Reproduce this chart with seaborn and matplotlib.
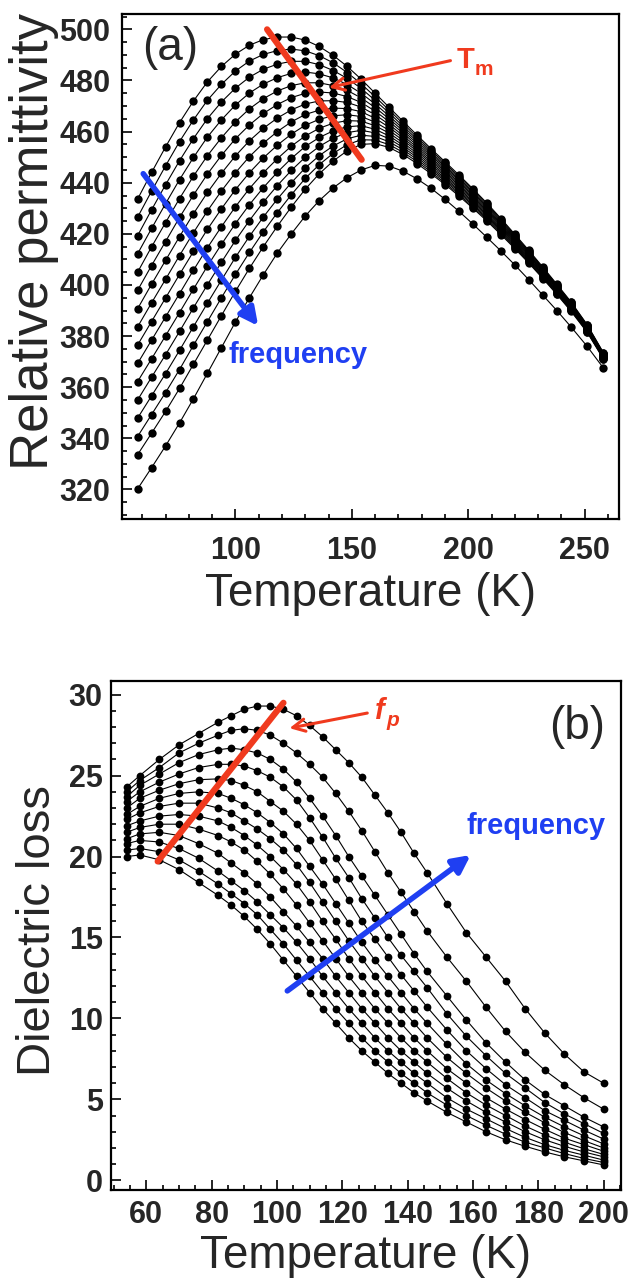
import numpy as np
import pandas as pd
import seaborn as sns
import matplotlib.pyplot as plt
from matplotlib.ticker import MultipleLocator

# ---------------- (a) relative permittivity, 16 frequencies ----------------
temp_a = [58, 64, 70, 76, 82, 88, 94, 100, 106, 112, 118, 124, 130, 136, 142, 148, 154,
          160, 166, 172, 178, 184, 190, 196, 202, 208, 214, 220, 226, 232, 238, 244, 251, 258]

eps_00 = [433.6, 444.0, 454.0, 463.5, 472.0, 479.5, 485.5, 490.3, 493.8, 496.0, 497.0, 497.0, 495.8, 493.3, 489.8, 485.5, 480.5,
          475.0, 469.5, 464.0, 458.6, 453.3, 448.2, 443.0, 437.6, 432.0, 426.0, 419.8, 413.5, 407.0, 400.3, 393.5, 384.5, 373.5]
eps_01 = [426.5, 436.7, 446.6, 456.1, 464.6, 472.3, 478.5, 483.7, 487.6, 490.2, 491.7, 492.3, 491.6, 489.7, 486.9, 483.1, 478.7,
          473.6, 468.4, 463.1, 457.8, 452.6, 447.6, 442.4, 437.1, 431.5, 425.6, 419.4, 413.1, 406.7, 400.0, 393.2, 384.3, 373.3]
eps_02 = [419.3, 429.4, 439.2, 448.6, 457.3, 465.1, 471.6, 477.0, 481.3, 484.4, 486.4, 487.5, 487.5, 486.2, 483.9, 480.8, 476.9,
          472.2, 467.3, 462.1, 457.0, 451.9, 446.9, 441.8, 436.5, 431.0, 425.1, 419.0, 412.8, 406.4, 399.7, 393.0, 384.1, 373.1]
eps_03 = [412.2, 422.1, 431.8, 441.2, 449.9, 457.9, 464.6, 470.4, 475.1, 478.6, 481.1, 482.8, 483.3, 482.6, 481.0, 478.4, 475.0,
          470.8, 466.1, 461.2, 456.2, 451.2, 446.3, 441.2, 436.0, 430.5, 424.7, 418.6, 412.4, 406.0, 399.4, 392.7, 383.9, 373.0]
eps_04 = [405.0, 414.9, 424.4, 433.8, 442.6, 450.6, 457.6, 463.8, 468.9, 472.9, 475.9, 478.0, 479.1, 479.1, 478.0, 476.1, 473.2,
          469.4, 465.0, 460.3, 455.4, 450.5, 445.7, 440.7, 435.4, 430.0, 424.2, 418.2, 412.1, 405.7, 399.2, 392.4, 383.6, 372.8]
eps_05 = [397.9, 407.6, 417.0, 426.4, 435.2, 443.4, 450.7, 457.2, 462.6, 467.1, 470.6, 473.3, 475.0, 475.5, 475.1, 473.7, 471.4,
          468.0, 463.9, 459.4, 454.6, 449.8, 445.0, 440.1, 434.9, 429.5, 423.8, 417.8, 411.7, 405.4, 398.9, 392.2, 383.4, 372.6]
eps_06 = [390.7, 400.3, 409.6, 418.9, 427.9, 436.2, 443.7, 450.5, 456.4, 461.3, 465.3, 468.5, 470.8, 472.0, 472.1, 471.4, 469.6,
          466.6, 462.8, 458.4, 453.8, 449.1, 444.4, 439.5, 434.3, 429.0, 423.3, 417.4, 411.4, 405.1, 398.6, 391.9, 383.2, 372.4]
eps_07 = [383.6, 393.0, 402.2, 411.5, 420.5, 429.0, 436.8, 443.9, 450.2, 455.5, 460.0, 463.8, 466.7, 468.4, 469.2, 469.0, 467.8,
          465.2, 461.7, 457.5, 453.0, 448.4, 443.8, 438.9, 433.8, 428.5, 422.9, 417.0, 411.0, 404.8, 398.3, 391.7, 383.0, 372.3]
eps_08 = [376.5, 385.7, 394.9, 404.1, 413.1, 421.8, 429.8, 437.3, 443.9, 449.7, 454.7, 459.0, 462.5, 464.8, 466.2, 466.6, 465.9,
          463.7, 460.5, 456.6, 452.3, 447.7, 443.1, 438.3, 433.3, 428.0, 422.4, 416.6, 410.6, 404.4, 398.0, 391.4, 382.8, 372.1]
eps_09 = [369.3, 378.4, 387.5, 396.6, 405.8, 414.6, 422.8, 430.6, 437.7, 443.9, 449.4, 454.3, 458.3, 461.3, 463.3, 464.3, 464.1,
          462.3, 459.4, 455.6, 451.5, 447.0, 442.5, 437.7, 432.7, 427.5, 422.0, 416.2, 410.3, 404.1, 397.7, 391.1, 382.6, 371.9]
eps_10 = [362.2, 371.1, 380.1, 389.2, 398.4, 407.4, 415.9, 424.0, 431.4, 438.1, 444.1, 449.5, 454.2, 457.7, 460.3, 461.9, 462.3,
          460.9, 458.3, 454.7, 450.7, 446.3, 441.8, 437.1, 432.2, 427.0, 421.5, 415.8, 409.9, 403.8, 397.4, 390.9, 382.4, 371.7]
eps_11 = [355.0, 363.9, 372.7, 381.8, 391.1, 400.1, 408.9, 417.4, 425.2, 432.4, 438.9, 444.8, 450.0, 454.2, 457.4, 459.6, 460.5,
          459.5, 457.2, 453.8, 449.9, 445.6, 441.2, 436.6, 431.6, 426.5, 421.1, 415.4, 409.6, 403.5, 397.2, 390.6, 382.1, 371.5]
eps_12 = [347.9, 356.6, 365.3, 374.4, 383.7, 392.9, 401.9, 410.8, 419.0, 426.6, 433.6, 440.0, 445.8, 450.6, 454.4, 457.2, 458.6,
          458.1, 456.0, 452.9, 449.1, 444.9, 440.6, 436.0, 431.1, 426.0, 420.6, 415.0, 409.2, 403.1, 396.9, 390.3, 381.9, 371.4]
eps_13 = [340.7, 349.3, 357.9, 366.9, 376.4, 385.7, 395.0, 404.1, 412.7, 420.8, 428.3, 435.3, 441.7, 447.1, 451.5, 454.9, 456.8,
          456.7, 454.9, 451.9, 448.3, 444.2, 439.9, 435.4, 430.5, 425.5, 420.2, 414.6, 408.9, 402.8, 396.6, 390.1, 381.7, 371.2]
eps_14 = [333.6, 342.0, 350.5, 359.5, 369.0, 378.5, 388.0, 397.5, 406.5, 415.0, 423.0, 430.5, 437.5, 443.5, 448.5, 452.5, 455.0,
          455.3, 453.8, 451.0, 447.5, 443.5, 439.3, 434.8, 430.0, 425.0, 419.7, 414.2, 408.5, 402.5, 396.3, 389.8, 381.5, 371.0]
eps_15 = [320.2, 328.5, 337.0, 346.0, 355.5, 365.5, 375.5, 385.5, 395.0, 404.0, 412.5, 420.0, 427.0, 433.0, 438.0, 442.0, 445.0,
          446.8, 446.5, 444.5, 441.5, 437.8, 433.5, 428.8, 423.8, 418.6, 413.3, 407.8, 402.0, 396.0, 390.0, 383.7, 376.0, 367.5]

# ---------------- (b) dielectric loss, 13 frequencies ----------------
temp_b = [54, 58, 64, 70, 76, 82, 86, 90, 94, 98, 102, 106, 110, 114, 118, 122,
          126, 130, 134, 138, 142, 146, 152, 158, 164, 170, 176, 182, 188, 194, 200]

loss_00 = [20.0, 20.1, 19.8, 19.2, 18.4, 17.6, 17.0, 16.3, 15.5, 14.6, 13.6, 12.6, 11.6, 10.6, 9.7, 8.8,
           8.0, 7.3, 6.6, 6.0, 5.4, 4.9, 4.2, 3.6, 3.0, 2.5, 2.1, 1.75, 1.45, 1.2, 0.95]
loss_01 = [20.4, 20.5, 20.3, 19.8, 19.1, 18.3, 17.7, 17.1, 16.4, 15.5, 14.6, 13.6, 12.6, 11.6, 10.6, 9.7,
           8.8, 8.0, 7.3, 6.6, 6.0, 5.4, 4.65, 4.0, 3.4, 2.85, 2.35, 2.0, 1.65, 1.35, 1.1]
loss_02 = [20.8, 21.0, 20.9, 20.5, 19.9, 19.1, 18.5, 17.9, 17.2, 16.4, 15.6, 14.7, 13.7, 12.6, 11.6, 10.6,
           9.7, 8.8, 8.0, 7.3, 6.6, 6.0, 5.1, 4.4, 3.8, 3.2, 2.65, 2.2, 1.85, 1.55, 1.25]
loss_03 = [21.1, 21.4, 21.5, 21.3, 20.8, 20.2, 19.6, 19.0, 18.3, 17.5, 16.6, 15.7, 14.7, 13.7, 12.6, 11.6,
           10.6, 9.7, 8.8, 8.0, 7.3, 6.6, 5.7, 4.9, 4.2, 3.6, 3.0, 2.5, 2.1, 1.75, 1.45]
loss_04 = [21.5, 21.8, 22.0, 22.0, 21.7, 21.3, 20.9, 20.4, 19.7, 18.9, 18.0, 17.0, 15.9, 14.8, 13.7, 12.6,
           11.6, 10.6, 9.7, 8.8, 8.0, 7.3, 6.3, 5.4, 4.65, 4.0, 3.35, 2.8, 2.35, 1.95, 1.6]
loss_05 = [21.9, 22.2, 22.5, 22.6, 22.5, 22.2, 21.8, 21.3, 20.7, 20.0, 19.2, 18.3, 17.2, 16.0, 14.9, 13.7,
           12.6, 11.6, 10.6, 9.7, 8.8, 8.0, 6.9, 6.0, 5.1, 4.4, 3.75, 3.15, 2.6, 2.2, 1.8]
loss_06 = [22.3, 22.7, 23.1, 23.3, 23.3, 23.0, 22.7, 22.2, 21.7, 21.1, 20.4, 19.5, 18.4, 17.2, 16.0, 14.8,
           13.7, 12.6, 11.6, 10.6, 9.7, 8.8, 7.6, 6.6, 5.7, 4.9, 4.2, 3.55, 2.95, 2.45, 2.0]
loss_07 = [22.6, 23.1, 23.6, 23.9, 24.0, 23.9, 23.6, 23.2, 22.7, 22.1, 21.4, 20.5, 19.4, 18.3, 17.1, 15.9,
           14.7, 13.6, 12.6, 11.6, 10.6, 9.7, 8.4, 7.2, 6.2, 5.35, 4.6, 3.9, 3.3, 2.75, 2.25]
loss_08 = [23.0, 23.6, 24.1, 24.5, 24.75, 24.8, 24.7, 24.4, 24.0, 23.4, 22.8, 22.0, 21.0, 19.8, 18.6, 17.3,
           16.0, 14.9, 13.8, 12.7, 11.7, 10.7, 9.3, 8.0, 6.9, 5.9, 5.1, 4.3, 3.7, 3.1, 2.55]
loss_09 = [23.4, 24.0, 24.6, 25.1, 25.5, 25.7, 25.7, 25.6, 25.3, 24.9, 24.3, 23.5, 22.4, 21.2, 19.9, 18.7,
           17.4, 16.2, 15.0, 13.9, 12.9, 11.9, 10.3, 8.9, 7.7, 6.6, 5.7, 4.8, 4.1, 3.5, 2.9]
loss_10 = [23.7, 24.4, 25.1, 25.8, 26.3, 26.6, 26.7, 26.6, 26.4, 26.0, 25.4, 24.6, 23.6, 22.5, 21.3, 20.0,
           18.8, 17.6, 16.4, 15.2, 14.0, 12.9, 11.4, 9.9, 8.5, 7.3, 6.2, 5.3, 4.6, 3.9, 3.3]
loss_11 = [24.0, 24.7, 25.5, 26.4, 27.0, 27.5, 27.8, 27.9, 27.8, 27.5, 27.0, 26.4, 25.7, 24.9, 23.9, 22.8,
           21.6, 20.3, 19.0, 17.8, 16.6, 15.4, 13.8, 12.3, 10.7, 9.2, 7.9, 6.8, 5.9, 5.1, 4.4]
loss_12 = [24.3, 25.0, 26.0, 26.9, 27.6, 28.3, 28.7, 29.1, 29.3, 29.3, 29.1, 28.7, 28.1, 27.4, 26.6, 25.8,
           24.9, 23.8, 22.7, 21.5, 20.2, 19.0, 17.1, 15.3, 13.8, 12.3, 10.6, 9.1, 7.8, 6.7, 6.0]

ticks_a_x = [100, 150, 200, 250]
ticks_a_y = [320, 340, 360, 380, 400, 420, 440, 460, 480, 500]
ticks_b_x = [60, 80, 100, 120, 140, 160, 180, 200]
ticks_b_y = [0, 5, 10, 15, 20, 25, 30]

RED = "#f03a1e"
BLUE = "#1f3ff2"


def long_table(temps, curves, name):
    # one row per point, curve id as a string so seaborn treats it as categorical
    rows = []
    for i, c in enumerate(curves):
        rows.append(pd.DataFrame({"T": temps, name: c, "curve": "c%02d" % i}))
    return pd.concat(rows, ignore_index=True)


df_a = long_table(temp_a, [eps_00, eps_01, eps_02, eps_03, eps_04, eps_05, eps_06, eps_07,
                           eps_08, eps_09, eps_10, eps_11, eps_12, eps_13, eps_14, eps_15], "eps")
df_b = long_table(temp_b, [loss_00, loss_01, loss_02, loss_03, loss_04, loss_05, loss_06,
                           loss_07, loss_08, loss_09, loss_10, loss_11, loss_12], "loss")

sns.set_style("ticks")
plt.rcParams["font.family"] = ["Liberation Sans", "DejaVu Sans"]

fig = plt.figure(figsize=(6.31, 12.88), dpi=100)
ax_a = fig.add_axes([0.1926, 0.5970, 0.7884, 0.3921])
ax_b = fig.add_axes([0.1759, 0.0761, 0.8075, 0.3952])

sns.lineplot(data=df_a, x="T", y="eps", hue="curve", palette=["black"] * 16,
             estimator=None, sort=False, marker="o", markersize=6, markeredgewidth=0,
             linewidth=0.8, legend=False, ax=ax_a)
sns.lineplot(data=df_b, x="T", y="loss", hue="curve", palette=["black"] * 13,
             estimator=None, sort=False, marker="o", markersize=5.6, markeredgewidth=0,
             linewidth=0.8, legend=False, ax=ax_b)


def style(ax, xt, yt, xminor, yminor, xpad, ypad):
    ax.set_xticks(xt)
    ax.set_xticklabels([str(v) for v in xt], fontsize=22, fontweight="bold")
    ax.set_yticks(yt)
    ax.set_yticklabels([str(v) for v in yt], fontsize=22, fontweight="bold")
    ax.xaxis.set_minor_locator(MultipleLocator(xminor))
    ax.yaxis.set_minor_locator(MultipleLocator(yminor))
    ax.tick_params(which="both", direction="in", top=False, right=False, width=1.2, color="black")
    ax.tick_params(which="major", length=7)
    ax.tick_params(which="minor", length=3.5)
    ax.tick_params(axis="x", pad=xpad)
    ax.tick_params(axis="y", pad=ypad)
    for s in ax.spines.values():
        s.set_linewidth(1.6)
        s.set_color("black")


# panel (a)
ax_a.set_xlim(51.1, 264.7)
ax_a.set_ylim(308.4, 506)
style(ax_a, ticks_a_x, ticks_a_y, 10, 5, 12, 8)
ax_a.set_xlabel("Temperature (K)", fontsize=33)
ax_a.set_ylabel("Relative permittivity", fontsize=38)
ax_a.xaxis.set_label_coords(0.5, -0.104)
ax_a.yaxis.set_label_coords(-0.125, 0.55)

ax_a.text(71.8, 492.7, "(a)", fontsize=33, ha="center", va="center")
ax_a.plot([113.6, 154.2], [500, 449], color=RED, lw=4.5, solid_capstyle="round")
ax_a.annotate("", xy=(139, 477), xytext=(193.5, 488),
              arrowprops=dict(arrowstyle="->", color=RED, lw=2.2, mutation_scale=22))
ax_a.text(195, 488, "T", color=RED, fontsize=21, fontweight="bold", ha="left", va="center")
ax_a.annotate("m", xy=(195, 488), xytext=(13, -7), textcoords="offset points",
              color=RED, fontsize=15, fontweight="bold", ha="left", va="center")
ax_a.annotate("", xy=(110.5, 383.1), xytext=(59.7, 444.4),
              arrowprops=dict(arrowstyle="-|>", color=BLUE, lw=4, mutation_scale=26))
ax_a.text(127, 372.7, "frequency", color=BLUE, fontsize=21, fontweight="bold",
          ha="center", va="center")

# panel (b)
ax_b.set_xlim(49.2, 205.2)
ax_b.set_ylim(-0.6, 30.85)
style(ax_b, ticks_b_x, ticks_b_y, 5, 1, 7, 6)
ax_b.set_xlabel("Temperature (K)", fontsize=33)
ax_b.set_ylabel("Dielectric loss", fontsize=34)
ax_b.xaxis.set_label_coords(0.5, -0.086)
ax_b.yaxis.set_label_coords(-0.1, 0.51)

ax_b.text(192, 28.0, "(b)", fontsize=33, ha="center", va="center")
ax_b.plot([63.5, 102], [19.7, 29.5], color=RED, lw=4.5, solid_capstyle="round")
ax_b.annotate("", xy=(103, 27.9), xytext=(128.5, 28.9),
              arrowprops=dict(arrowstyle="->", color=RED, lw=2.2, mutation_scale=22))
ax_b.text(130, 29.0, "f", color=RED, fontsize=21, fontweight="bold", fontstyle="italic",
          ha="left", va="center")
ax_b.annotate("p", xy=(130, 29.0), xytext=(8, -7), textcoords="offset points",
              color=RED, fontsize=15, fontweight="bold", fontstyle="italic", ha="left", va="center")
ax_b.annotate("", xy=(160, 20.2), xytext=(102.5, 11.6),
              arrowprops=dict(arrowstyle="-|>", color=BLUE, lw=4, mutation_scale=26))
ax_b.text(179.3, 21.9, "frequency", color=BLUE, fontsize=21, fontweight="bold",
          ha="center", va="center")

fig.savefig("out.png", dpi=100)
